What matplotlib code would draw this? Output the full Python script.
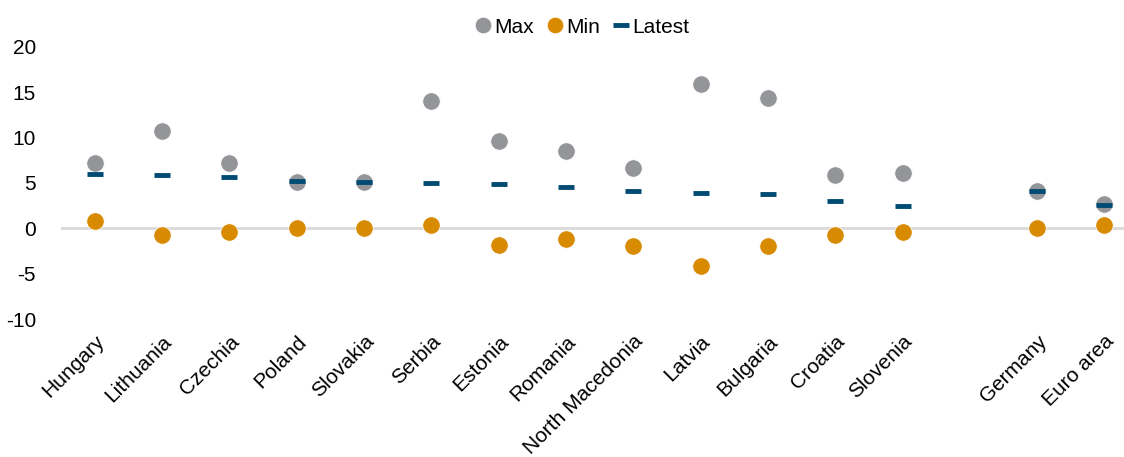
import matplotlib.pyplot as plt
import numpy as np

plt.rcParams['font.family'] = ['Liberation Sans', 'DejaVu Sans']
plt.rcParams['axes.unicode_minus'] = False

# countries (empty slot separates the aggregates)
countries = ['Hungary', 'Lithuania', 'Czechia', 'Poland', 'Slovakia', 'Serbia',
             'Estonia', 'Romania', 'North Macedonia', 'Latvia', 'Bulgaria',
             'Croatia', 'Slovenia', '', 'Germany', 'Euro area']
max_vals = [7.2, 10.7, 7.2, 5.1, 5.1, 14.0, 9.65, 8.5, 6.6, 15.9, 14.4, 5.9, 6.05,
            np.nan, 4.15, 2.7]
min_vals = [0.85, -0.75, -0.4, 0.1, 0.1, 0.4, -1.8, -1.2, -1.9, -4.1, -1.9, -0.7, -0.35,
            np.nan, 0.05, 0.4]
latest_vals = [5.98, 5.83, 5.7, 5.2, 5.1, 4.95, 4.9, 4.55, 4.15, 3.9, 3.75, 3.05, 2.45,
               np.nan, 4.15, 2.6]

c_max = '#939598'
c_min = '#D88A00'
c_latest = '#004B73'

fig = plt.figure(figsize=(11.24, 4.57), dpi=100)
ax = fig.add_axes([61/1124, 1 - 319.3/457, 1 - 61/1124, (319.3 - 46.7)/457])

x = np.arange(len(countries))
ax.axhline(0, color='#d9d9d9', lw=2, zorder=1)
ax.plot(x, max_vals, 'o', color=c_max, ms=12.5, mec='white', mew=0.5, label='Max', zorder=2)
ax.plot(x, min_vals, 'o', color=c_min, ms=12.5, mec='white', mew=0.5, label='Min', zorder=2)
ax.plot(x, latest_vals, '_', color=c_latest, ms=12, mew=3.5, label='Latest', zorder=3)

ax.set_ylim(-10, 20)
ax.set_yticks(np.arange(-10, 21, 5))
ax.set_xlim(-0.5, 15.29)
ax.set_xticks(x)
ax.set_xticklabels(countries, rotation=45, ha='right', rotation_mode='anchor')
for s in ax.spines.values():
    s.set_visible(False)
ax.tick_params(axis='both', length=0, labelsize=15)
ax.tick_params(axis='y', pad=18)
ax.tick_params(axis='x', pad=9)

ax.legend(loc='upper center', bbox_to_anchor=(0.49, 1.175), ncol=3, frameon=False,
          fontsize=15, handlelength=0.8, handletextpad=0.15, columnspacing=0.6,
          markerscale=0.95)

fig.savefig('out.png', dpi=100)
